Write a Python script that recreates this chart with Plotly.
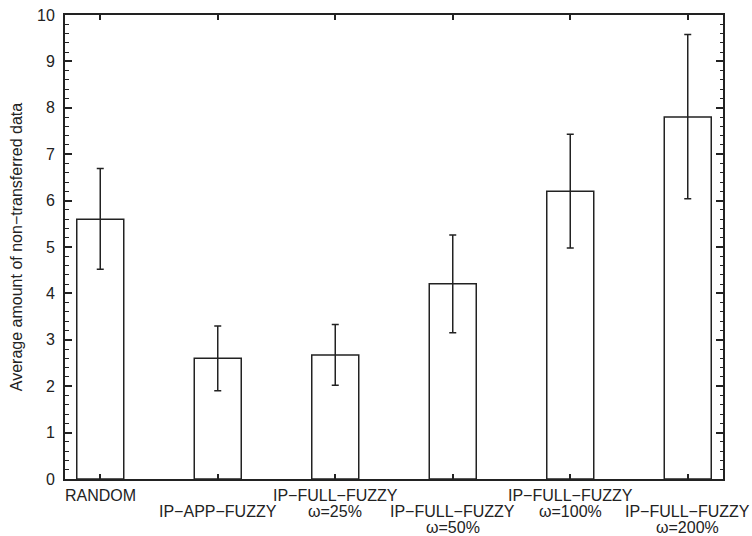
import plotly.graph_objects as go

categories = ["RANDOM", "IP−APP−FUZZY", "IP−FULL−FUZZY ω=25%",
              "IP−FULL−FUZZY ω=50%", "IP−FULL−FUZZY ω=100%", "IP−FULL−FUZZY ω=200%"]
label_line1 = ["RANDOM", "IP−APP−FUZZY", "IP−FULL−FUZZY", "IP−FULL−FUZZY",
               "IP−FULL−FUZZY", "IP−FULL−FUZZY"]
label_line2 = ["", "", "ω=25%", "ω=50%", "ω=100%", "ω=200%"]
values = [5.60, 2.60, 2.67, 4.21, 6.20, 7.80]
err_low = [4.52, 1.90, 2.02, 3.15, 4.98, 6.04]
err_high = [6.69, 3.30, 3.33, 5.26, 7.43, 9.58]

FONT = "Liberation Sans, Arial, Helvetica, sans-serif"

fig = go.Figure()
fig.add_trace(go.Bar(
    x=categories, y=values,
    marker=dict(color="white", line=dict(color="#222", width=1.5)),
    error_y=dict(type="data", symmetric=False,
                 array=[h - v for h, v in zip(err_high, values)],
                 arrayminus=[v - l for l, v in zip(err_low, values)],
                 color="#222", thickness=1.5, width=3.5),
    showlegend=False,
))

annotations = []
for i, (c, l1, l2) in enumerate(zip(categories, label_line1, label_line2)):
    row = i % 2
    lines = [l1] + ([l2] if l2 else [])
    for j, t in enumerate(lines):
        annotations.append(dict(
            x=c, y=0, xref="x", yref="paper", text=t, showarrow=False,
            xanchor="center", yanchor="middle",
            yshift=-(16 + 16 * (row + j)),
            font=dict(family=FONT, size=16, color="#222"),
        ))

fig.update_layout(
    width=752, height=536,
    margin=dict(l=65, r=29, t=15, b=57, autoexpand=False),
    paper_bgcolor="white", plot_bgcolor="white",
    bargap=0.6,
    font=dict(family=FONT, size=16, color="#222"),
    annotations=annotations,
    xaxis=dict(
        type="category", range=[-0.3, 5.3],
        showticklabels=False, ticks="inside", ticklen=5, tickcolor="#222", tickwidth=1.5,
        showline=True, linecolor="#222", linewidth=2, mirror="allticks",
        showgrid=False, zeroline=False,
    ),
    yaxis=dict(
        range=[0, 10], dtick=1, tick0=0,
        ticks="inside", ticklen=7, tickcolor="#222", tickwidth=1.5,
        ticklabelstandoff=5,
        showline=True, linecolor="#222", linewidth=2, mirror="allticks",
        showgrid=False, zeroline=False,
        minor=dict(dtick=0.2, ticks="inside", ticklen=3.5, tickcolor="#222", tickwidth=1, showgrid=False),
        title=dict(text="Average amount of non−transferred data", standoff=10,
                   font=dict(family=FONT, size=16, color="#222")),
        tickfont=dict(family=FONT, size=16, color="#222"),
    ),
)

fig.write_html("out.html", config={"displayModeBar": False},
               post_script="document.body.style.margin='0';document.body.style.overflow='hidden';")
